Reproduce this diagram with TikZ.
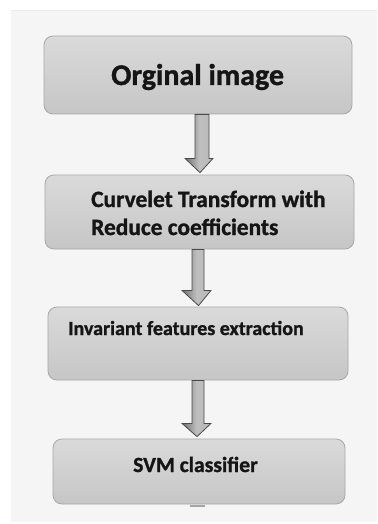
\documentclass[tikz,border=0pt]{standalone}
\usepackage{fontspec}
\setmainfont{Carlito}[BoldFeatures={FakeBold=1.2}]
\usetikzlibrary{calc}
\definecolor{panel}{HTML}{F5F5F5}
\definecolor{boxtop}{HTML}{DADADA}
\definecolor{boxbot}{HTML}{C6C6C6}
\definecolor{boxline}{HTML}{A8A8A8}
\definecolor{arrfill}{HTML}{8A8A8A}
\definecolor{arrline}{HTML}{4A4A4A}
\definecolor{txt}{HTML}{151515}
\tikzset{
  stepbox/.style={rectangle, rounded corners=9pt, draw=boxline, line width=0.8pt,
    top color=boxtop, bottom color=boxbot, inner sep=0pt},
  flowarrow/.style={draw=arrline, line width=0.8pt, left color=arrfill!80!black, right color=arrfill!60, middle color=arrfill!55!white},
  lbl/.style={font=\bfseries, text=txt, inner sep=0pt, anchor=base west}
}
\begin{document}
\begin{tikzpicture}[x=1pt,y=-1pt]
\useasboundingbox (0,0) rectangle (377,524);
\fill[white] (0,0) rectangle (377,524);
\fill[panel] (11,10) rectangle (377,522);
\draw[gray!15, line width=0.6pt] (11,10) -- (377,10);
% boxes
\node[stepbox, minimum width=308pt, minimum height=78pt] (b1) at (198,75) {};
\node[stepbox, minimum width=309pt, minimum height=74pt] (b2) at (199.5,212) {};
\node[stepbox, minimum width=300pt, minimum height=73pt] (b3) at (198,343.5) {};
\node[stepbox, minimum width=292pt, minimum height=65pt] (b4) at (199,471.5) {};
% texts
\node[lbl, font=\fontsize{30}{30}\selectfont\bfseries] (t1) at (111,85) {Orginal image};
\node[lbl, font=\fontsize{23.4}{24}\selectfont\bfseries] (t2a) at (91,207) {Curvelet Transform with};
\node[lbl, font=\fontsize{23.4}{24}\selectfont\bfseries] (t2b) at (91,235) {Reduce coefficients};
\node[lbl, font=\fontsize{20}{20}\selectfont\bfseries] (t3) at (68,335) {Invariant features extraction};
\node[lbl, font=\fontsize{21.6}{22}\selectfont\bfseries] (t4) at (133,472) {SVM classifier};
% arrows
\draw[flowarrow] ($(b1.south)+(-3,0)$) -- ($(b1.south)+(-3,44)$) -- ($(b1.south)+(-13,44)$)
  -- ($(b2.north)+(0.5,-2)$) -- ($(b1.south)+(15,44)$) -- ($(b1.south)+(11,44)$)
  -- ($(b1.south)+(11,0)$) -- cycle;
\draw[flowarrow] ($(b2.south)+(-7.5,0)$) -- ($(b2.south)+(-7.5,41)$) -- ($(b2.south)+(-17.5,41)$)
  -- ($(b3.north)+(0.5,-1)$) -- ($(b2.south)+(11.5,41)$) -- ($(b2.south)+(4.5,41)$)
  -- ($(b2.south)+(4.5,0)$) -- cycle;
\draw[flowarrow] ($(b3.south)+(-6,0)$) -- ($(b3.south)+(-6,43)$) -- ($(b3.south)+(-16,43)$)
  -- ($(b4.north)+(-2,-2)$) -- ($(b3.south)+(13,43)$) -- ($(b3.south)+(6,43)$)
  -- ($(b3.south)+(6,0)$) -- cycle;
% stub below last box
\fill[gray!70] ($(b4.south)+(-9,0.5)$) rectangle ($(b4.south)+(6,3)$);
\end{tikzpicture}
\end{document}
